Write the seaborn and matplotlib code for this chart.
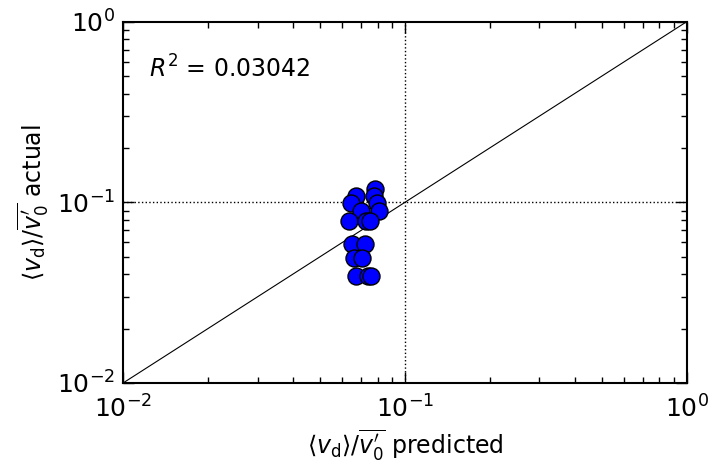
import matplotlib
matplotlib.use('Agg')
import matplotlib.pyplot as plt
import numpy as np
import pandas as pd
import seaborn as sns

# values (log-log axes)
predicted = [0.078, 0.0672, 0.0645, 0.0775, 0.0796, 0.070, 0.0807, 0.0633,
             0.073, 0.075, 0.065, 0.072, 0.0659, 0.0704, 0.0672, 0.074, 0.0755]
actual = [0.119, 0.109, 0.099, 0.109, 0.099, 0.089, 0.089, 0.079,
          0.079, 0.079, 0.059, 0.059, 0.049, 0.049, 0.039, 0.039, 0.039]
diag = [0.01, 1.0]
r2_text = r'$R^2$ = 0.03042'

sns.set_style('ticks', {'axes.edgecolor': 'black', 'text.color': 'black',
                        'xtick.color': 'black', 'ytick.color': 'black',
                        'axes.labelcolor': 'black'})
plt.rcParams['font.family'] = ['DejaVu Sans']
plt.rcParams['mathtext.fontset'] = 'dejavusans'
plt.rcParams['xtick.direction'] = 'in'
plt.rcParams['ytick.direction'] = 'in'

fig = plt.figure(figsize=(7.08, 4.71), dpi=100)
ax = fig.add_axes([0.174, 0.187, 0.796, 0.767])

df = pd.DataFrame({'pred': predicted, 'act': actual})

ax.plot(diag, diag, color='black', lw=0.8, zorder=1)
ax.axvline(0.1, color='black', ls=':', lw=1, zorder=1)
ax.axhline(0.1, color='black', ls=':', lw=1, zorder=1)
sns.scatterplot(data=df, x='pred', y='act', ax=ax, s=150, color='#0000ff',
                edgecolor='black', linewidth=1, zorder=3)

ax.set_xscale('log')
ax.set_yscale('log')
ax.set_xlim(0.01, 1)
ax.set_ylim(0.01, 1)

ax.tick_params(which='both', top=True, right=True, labelsize=18)
ax.tick_params(which='major', length=8, width=1)
ax.tick_params(which='minor', length=4, width=1)
ax.tick_params(axis='x', pad=9)
ax.tick_params(axis='y', pad=6)
for sp in ax.spines.values():
    sp.set_linewidth(1.5)

ax.set_xlabel(r'$\langle v_\mathrm{d}\rangle/\overline{v_0^\prime}$ predicted', fontsize=17)
ax.set_ylabel(r'$\langle v_\mathrm{d}\rangle/\overline{v_0^\prime}$ actual', fontsize=17)
ax.text(0.045, 0.87, r2_text, transform=ax.transAxes, fontsize=17, va='center')

fig.savefig('out.png', dpi=100)
